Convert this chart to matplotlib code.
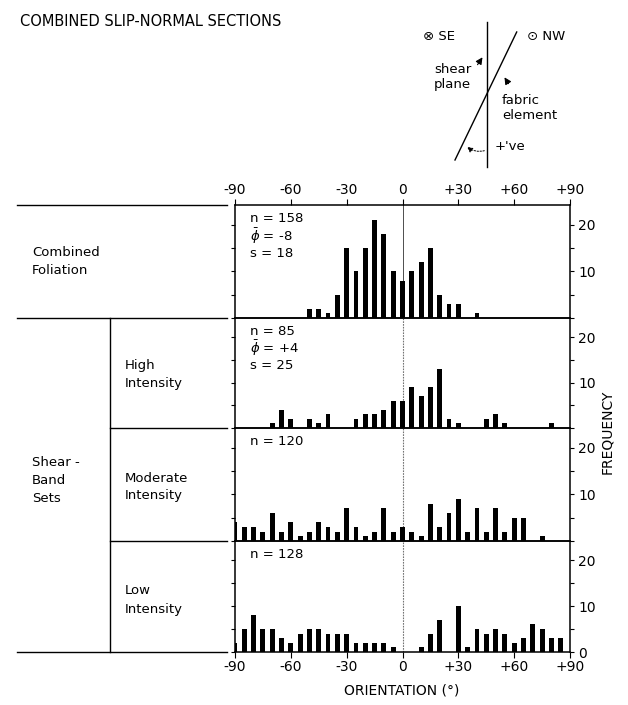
import numpy as np
import matplotlib
matplotlib.use('Agg')
from matplotlib import pyplot as plt
from matplotlib.patches import FancyArrowPatch

plt.rcParams['font.family'] = ['DejaVu Sans']
plt.rcParams['mathtext.fontset'] = 'dejavusans'

# bin centres (degrees) and counts per panel
orientation = list(range(-90, 95, 5))
combined = [0, 0, 0, 0, 0, 0, 0, 0, 2, 2, 1, 5, 15, 10, 15, 21, 18, 10, 8,
            10, 12, 15, 5, 3, 3, 0, 1, 0, 0, 0, 0, 0, 0, 0, 0, 0, 0]
high = [0, 0, 0, 0, 1, 4, 2, 0, 2, 1, 3, 0, 0, 2, 3, 3, 4, 6, 6,
        9, 7, 9, 13, 2, 1, 0, 0, 2, 3, 1, 0, 0, 0, 0, 1, 0, 0]
moderate = [4, 3, 3, 2, 6, 2, 4, 1, 2, 4, 3, 2, 7, 3, 1, 2, 7, 2, 3,
            2, 1, 8, 3, 6, 9, 2, 7, 2, 7, 2, 5, 5, 0, 1, 0, 0, 0]
low = [2, 5, 8, 5, 5, 3, 2, 4, 5, 5, 4, 4, 4, 2, 2, 2, 2, 1, 0,
       0, 1, 4, 7, 0, 10, 1, 5, 4, 5, 4, 2, 3, 6, 5, 3, 3, 0]

panels = [combined, high, moderate, low]
stats = [['n = 158', r'$\bar{\phi}$ = -8', 's = 18'],
         ['n = 85', r'$\bar{\phi}$ = +4', 's = 25'],
         ['n = 120'],
         ['n = 128']]
xticks = [-90, -60, -30, 0, 30, 60, 90]
xticklabels = ['-90', '-60', '-30', '0', '+30', '+60', '+90']

W, H = 628, 705
fig = plt.figure(figsize=(W / 100, H / 100), dpi=100)

# overlay in pixel coordinates for the table and the sketch
deco = fig.add_axes([0, 0, 1, 1])
deco.set_xlim(0, W)
deco.set_ylim(H, 0)
deco.axis('off')

edges = [205, 318, 428, 541, 652]
x0, x1 = 235, 570
fs = 9.5

for i, counts in enumerate(panels):
    top, bot = edges[i], edges[i + 1]
    ax = fig.add_axes([x0 / W, 1 - bot / H, (x1 - x0) / W, (bot - top) / H])
    ax.set_facecolor('none')
    ax.bar(orientation, counts, width=2.6, color='black', zorder=3)
    if i == 0:
        ax.axvline(0, color='0.3', lw=0.7, zorder=1)
    else:
        ax.axvline(0, color='0.45', lw=0.8, ls=(0, (1.5, 1)), zorder=1)
    ax.set_xlim(-90, 90)
    ax.set_ylim(0, 24.2)
    for sp in ax.spines.values():
        sp.set_linewidth(1.1)
    ax.yaxis.tick_right()
    ax.set_yticks([0, 5, 10, 15, 20])
    if i == 3:
        ax.set_yticklabels(['0', '', '10', '', '20'])
    else:
        ax.set_yticklabels(['', '', '10', '', '20'])
    ax.tick_params(axis='y', which='both', left=True, right=True, direction='out',
                   length=3, width=0.8, labelsize=10, pad=3)
    if i == 0:
        ax.xaxis.tick_top()
        ax.set_xticks(xticks)
        ax.set_xticklabels(xticklabels)
        ax.tick_params(axis='x', direction='out', length=4, labelsize=10, pad=2)
    elif i == 3:
        ax.set_xticks(xticks)
        ax.set_xticklabels(xticklabels)
        ax.tick_params(axis='x', direction='out', length=4, labelsize=10, pad=2)
    else:
        ax.set_xticks([])
    for k, s in enumerate(stats[i]):
        ax.text(0.045, 0.88 - k * 0.155, s, transform=ax.transAxes,
                fontsize=fs, va='center', ha='left')

# table at the left
lw = 1.0
for y, xa in [(205, 17), (318, 17), (428, 110), (541, 110), (652, 17)]:
    deco.plot([xa, x0 - 8], [y, y], color='black', lw=lw)
deco.plot([110, 110], [318, 652], color='black', lw=lw)
deco.text(32, 261, 'Combined\nFoliation', fontsize=fs, va='center', ha='left', linespacing=1.5)
deco.text(125, 374, 'High\nIntensity', fontsize=fs, va='center', ha='left', linespacing=1.5)
deco.text(125, 487, 'Moderate\nIntensity', fontsize=fs, va='center', ha='left', linespacing=1.5)
deco.text(125, 600, 'Low\nIntensity', fontsize=fs, va='center', ha='left', linespacing=1.5)
deco.text(32, 480, 'Shear -\nBand\nSets', fontsize=fs, va='center', ha='left', linespacing=1.5)

# title and axis names
deco.text(20, 22, 'COMBINED SLIP-NORMAL SECTIONS', fontsize=10.5, va='center', ha='left')
deco.text(402, 690, 'ORIENTATION (°)', fontsize=10, va='center', ha='center')
deco.text(607, 432, 'FREQUENCY', fontsize=10, va='center', ha='center', rotation=90)

# orientation sketch
deco.plot([487, 487], [22, 167], color='black', lw=1.0)
deco.plot([516.7, 455], [32, 160], color='black', lw=1.0)
deco.text(423, 37, '⊗ SE', fontsize=fs, va='center', ha='left')
deco.text(527, 37, '⊙ NW', fontsize=fs, va='center', ha='left')
deco.text(434, 77, 'shear\nplane', fontsize=fs, va='center', ha='left', linespacing=1.2)
deco.text(502, 108, 'fabric\nelement', fontsize=fs, va='center', ha='left', linespacing=1.2)
deco.text(495, 147, "+'ve", fontsize=fs, va='center', ha='left')
deco.add_patch(FancyArrowPatch((476, 67), (484, 55), arrowstyle='-|>', mutation_scale=10,
                               color='black', lw=0.8))
deco.add_patch(FancyArrowPatch((510, 86), (503, 75), arrowstyle='-|>', mutation_scale=10,
                               color='black', lw=0.8))
deco.add_patch(FancyArrowPatch((487, 150), (465, 145), arrowstyle='-|>', mutation_scale=8,
                               connectionstyle='arc3,rad=-0.3', color='black', lw=0.7,
                               linestyle=(0, (1.5, 1.5))))

fig.savefig('out.png', dpi=100)
